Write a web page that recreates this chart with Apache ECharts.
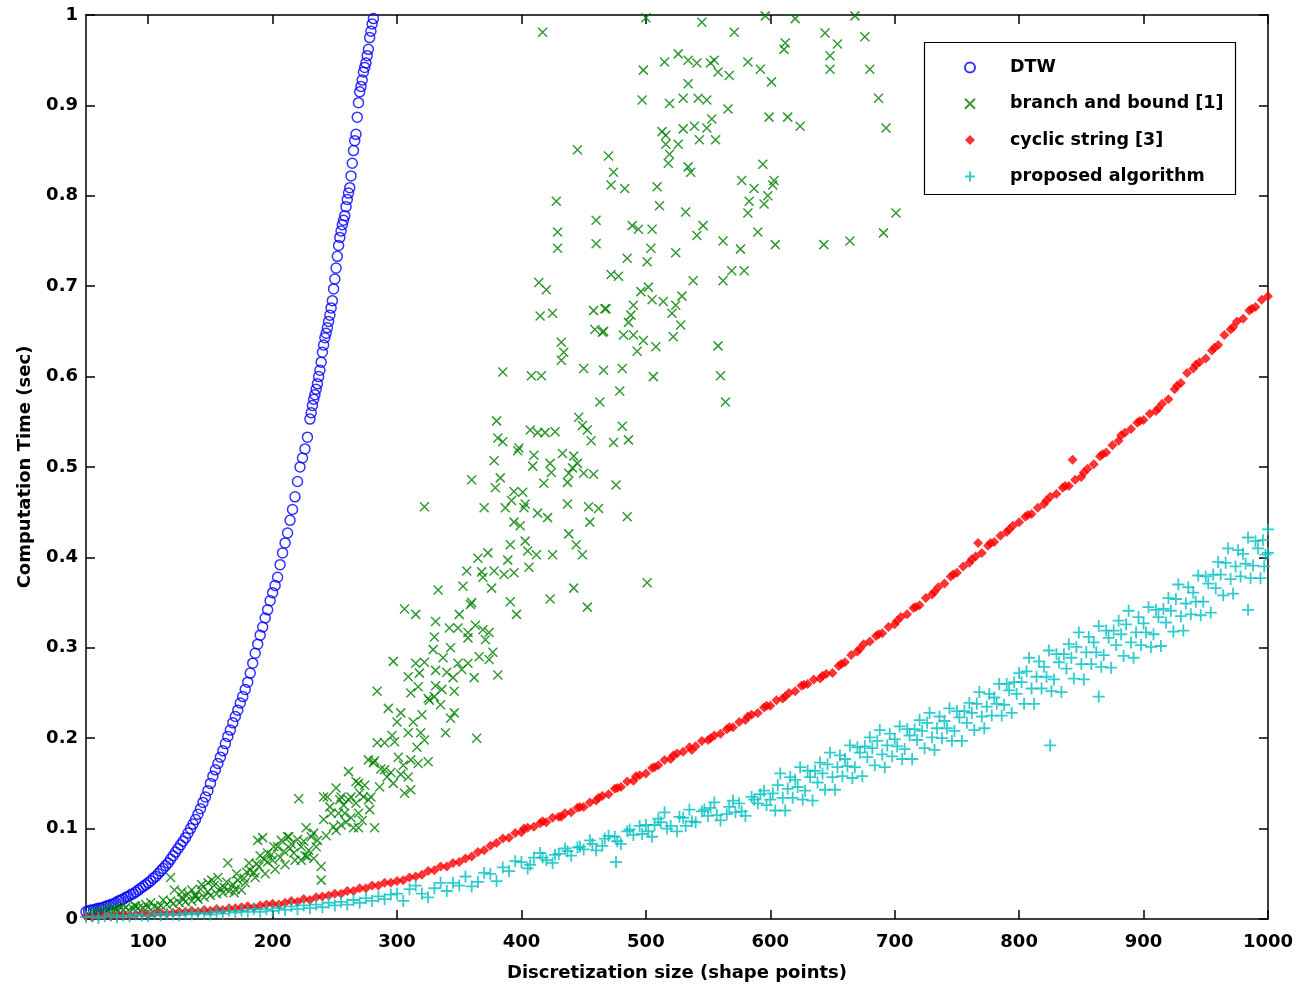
<!DOCTYPE html>
<html>
<head>
<meta charset="utf-8">
<script src="https://cdn.jsdelivr.net/npm/echarts@6/dist/echarts.min.js"></script>
<style>
html,body{margin:0;padding:0;background:#fff;}
#chart{width:1296px;height:991px;}
</style>
</head>
<body>
<div id="chart"></div>
<script>
const seriesNames = ['DTW', 'branch and bound [1]', 'cyclic string [3]', 'proposed algorithm'];
const xTicks = [100, 200, 300, 400, 500, 600, 700, 800, 900, 1000];
const yTicks = [0, 0.1, 0.2, 0.3, 0.4, 0.5, 0.6, 0.7, 0.8, 0.9, 1];

const dtw = [
[50,.008],[52,.009],[54,.010],[56,.010],[58,.011],[60,.012],[62,.012],[64,.013],[66,.014],[68,.015],
[70,.016],[72,.017],[74,.018],[76,.020],[78,.021],[80,.022],[82,.024],[84,.025],[86,.027],[88,.028],
[90,.030],[92,.032],[94,.034],[96,.036],[98,.038],[100,.040],[102,.042],[104,.045],[106,.047],[108,.050],
[110,.053],[112,.056],[114,.059],[116,.062],[118,.066],[120,.070],[122,.074],[124,.078],[126,.082],[128,.086],
[130,.090],[132,.095],[134,.100],[136,.105],[138,.110],[140,.116],[142,.122],[144,.129],[146,.135],[148,.142],
[150,.150],[152,.158],[154,.165],[156,.172],[158,.179],[160,.186],[162,.194],[164,.202],[166,.209],[168,.217],
[170,.224],[172,.231],[174,.239],[176,.246],[178,.254],[180,.262],[182,.272],[184,.283],[186,.294],[188,.304],
[190,.314],[192,.323],[194,.333],[196,.342],[198,.352],[200,.361],[202,.369],[204,.378],[206,.392],[208,.405],
[210,.416],[212,.427],[214,.441],[216,.453],[218,.467],[220,.484],[222,.500],[224,.510],[226,.520],[228,.533],
[230,.553],[232,.568],[234,.580],[236,.592],[238,.607],[240,.627],[242,.643],[244,.654],[246,.668],[248,.684],
[250,.708],[252,.733],[254,.754],[256,.768],[258,.778],[260,.796],[261,.803],[262,.809],[263,.822],[264,.836],
[265,.850],[266,.861],[267,.868],[268,.887],[269,.903],[270,.915],[272,.928],[274,.942],[276,.955],[278,.975],[280,.990],[281,.996],
[241,.635],[243,.648],[245,.661],[247,.676],[249,.697],[251,.720],[253,.745],[255,.761],[257,.773],[259,.788],
[271,.921],[273,.937],[275,.947],[277,.962],[279,.982],[231,.560],[233,.575],[235,.586],[237,.600],[239,.616]
];

const branchBound = [
[500,.997],[545,.992],[571,.981],[596,.999],[620,.996],[668,.999],[644,.980],[676,.976],[612,.969],[611,.962],
[654,.968],[648,.955],[648,.940],[680,.940],[498,.939],[515,.948],[526,.957],[534,.950],[541,.947],[552,.947],
[555,.950],[558,.937],[567,.933],[582,.948],[592,.940],[601,.926],[534,.924],[497,.906],[519,.902],[530,.908],
[542,.908],[549,.906],[566,.896],[687,.908],[599,.887],[614,.887],[624,.877],[693,.875],[513,.871],[516,.867],
[530,.874],[539,.877],[549,.875],[553,.885],[516,.857],[526,.857],[543,.862],[556,.862],[519,.846],[518,.836],
[534,.832],[536,.826],[594,.835],[470,.844],[474,.826],[472,.812],[483,.808],[509,.810],[577,.817],[587,.808],
[603,.817],[602,.812],[598,.800],[595,.791],[583,.794],[582,.781],[511,.789],[532,.782],[701,.781],[489,.767],
[494,.763],[505,.763],[546,.767],[541,.756],[590,.760],[562,.750],[576,.741],[604,.746],[643,.746],[664,.750],
[691,.759],[504,.742],[524,.737],[485,.731],[501,.727],[472,.713],[478,.711],[569,.717],[579,.717],[538,.706],
[562,.706],[496,.694],[502,.699],[505,.685],[514,.683],[529,.689],[524,.679],[521,.670],[490,.679],[488,.668],
[486,.660],[468,.675],[528,.657],[466,.650],[482,.646],[490,.646],[498,.640],[493,.628],[508,.633],[522,.644],
[558,.634],[560,.601],[564,.572],[506,.600],[481,.609],[466,.607],[479,.584],
[417,.981],[445,.851],[428,.794],[429,.760],[429,.742],[460,.773],[460,.747],[414,.704],[420,.696],[415,.667],
[425,.670],[458,.673],[467,.675],[459,.652],[465,.649],[432,.638],[434,.627],[432,.618],[385,.605],[408,.601],
[416,.601],[450,.609],[463,.572],[380,.551],[381,.532],[385,.528],[407,.541],[413,.538],[419,.538],[427,.539],
[446,.555],[449,.546],[453,.541],[456,.529],[474,.527],[481,.545],[486,.530],[398,.521],
[397,.518],[410,.513],[409,.501],[423,.504],[424,.494],[433,.515],[442,.512],[445,.504],[441,.499],[438,.493],
[437,.483],[450,.493],[458,.492],[378,.507],[360,.486],[383,.488],[379,.477],[418,.482],[476,.480],[322,.456],
[370,.455],[387,.455],[394,.473],[401,.472],[392,.463],[403,.459],[402,.455],[413,.449],[421,.444],[437,.459],
[454,.456],[462,.454],[455,.439],[485,.445],[394,.439],[399,.435],[391,.414],[403,.418],[405,.407],[412,.403],
[425,.403],[438,.426],[444,.414],[449,.403],[365,.399],[373,.405],[389,.397],[356,.385],[368,.384],[369,.378],
[378,.385],[386,.381],[394,.383],[406,.389],[353,.368],[333,.364],[376,.366],[442,.366],[501,.372],[360,.350],
[391,.351],[396,.337],[423,.354],[453,.345],[306,.343],[315,.337],[350,.337],[359,.348],[331,.329],[330,.312],
[329,.298],[342,.322],[349,.322],[357,.317],[363,.325],[369,.320],[374,.317],[357,.311],[371,.309],[377,.295],
[374,.287],[343,.300],[337,.289],[349,.283],[357,.283],[297,.285],[315,.283],[322,.284],[309,.268],[318,.272],
[331,.275],[340,.273],[317,.257],[331,.258],[345,.267],[346,.252],[362,.267],[381,.270],[284,.252],[325,.244],
[293,.233],[303,.228],[300,.218],[309,.206],[313,.218],[319,.206],[326,.242],[330,.246],[335,.237],[346,.228],
[343,.222],[339,.206],[364,.200],[284,.195],[290,.195],[298,.196],[277,.176],[281,.173],[290,.165],[295,.162],
[301,.179],[305,.170],[311,.176],[325,.174],[306,.139],[311,.143],[261,.163],[267,.152],[274,.148],[270,.139],
[263,.135],[277,.132],[278,.121],[269,.117],[251,.145],[244,.135],[254,.132],[221,.133],[241,.110],[249,.102],
[255,.104],[247,.117],[269,.101],[282,.101],[227,.101],[231,.091],[236,.087],[213,.091],[207,.087],[201,.080],
[192,.090],[223,.080],[229,.076],[233,.067],[239,.043],[223,.065],[217,.073],[181,.062],[189,.058],[196,.063],
[185,.051],[177,.045],[175,.032],[169,.029],[161,.035],[151,.043],[143,.038],[135,.032],[127,.030],[121,.032],
[118,.046],[112,.021],[102,.018],[89,.015],[78,.013],[73,.012],
[127,.024],[138,.027],[148,.040],[156,.046],[164,.062],[172,.043],[188,.087],[196,.073],[204,.080],[212,.091],
[233,.095],[239,.058],[228,.069],[253,.117],[258,.117],[263,.112],[265,.101],[272,.109],[241,.135],[255,.135],
[261,.132],[269,.150],[273,.135],[279,.135],[287,.166],[292,.157],[309,.157],[317,.172],[282,.175],
[52,.005],[56,.006],[60,.006],[64,.007],[68,.008],[72,.008],[76,.009],[80,.010],[84,.010],[88,.011],
[92,.012],[96,.012],[100,.013],[105,.014],[110,.015],[115,.016],[120,.017],[125,.018],[130,.019],[135,.020],
[140,.022],[145,.024],[150,.026],[155,.028],[160,.029],[165,.031],[170,.033],[58,.009],[66,.011],[74,.010],
[82,.013],[90,.014],[98,.016],[108,.012],[118,.020],[128,.022],[138,.025],[148,.030],[158,.034],[168,.038],
[178,.040],[186,.046],[194,.050],[202,.055],[210,.060],[218,.065],[226,.070],[206,.068],[214,.078],[220,.088],
[200,.065],[190,.070],[182,.054],
[132,.028],[142,.033],[153,.037],[163,.041],[171,.050],[179,.052],[187,.061],[193,.066],[199,.071],[209,.075],
[215,.083],[225,.086],[235,.080],[243,.092],[251,.098],[259,.107],[246,.124],[257,.126],[267,.128],[286,.146],
[297,.150],[303,.160],[316,.190],[322,.198],[296,.203],[320,.226],[336,.254],[352,.276],[366,.290],[311,.250]
];

const cyclicString = [
[50,.003],[55,.002],[60,.003],[65,.004],[70,.003],[75,.004],[80,.005],[85,.004],[90,.005],[95,.006],
[100,.005],[105,.006],[110,.007],[115,.006],[120,.007],[125,.008],[130,.008],[135,.009],[140,.008],[145,.010],
[150,.009],[155,.011],[160,.010],[165,.012],[170,.012],[175,.013],[180,.014],[185,.013],[190,.015],[195,.016],
[200,.017],[205,.016],[210,.018],[215,.020],[220,.019],[225,.022],[230,.021],[235,.024],[240,.025],[245,.026],
[250,.028],[255,.028],[260,.031],[265,.031],[270,.034],[275,.034],[280,.037],[285,.037],[290,.040],[295,.040],
[300,.042],[305,.043],[310,.046],[315,.047],[320,.049],[325,.053],[330,.054],[335,.058],[340,.058],[345,.062],
[350,.063],[355,.067],[360,.069],[365,.074],[370,.076],[375,.081],[380,.084],[385,.089],[390,.090],[395,.095],
[400,.096],[405,.101],[410,.102],[415,.106],[420,.107],[425,.112],[430,.113],[435,.117],[440,.118],[445,.123],
[450,.124],[455,.129],[460,.131],[465,.136],[470,.138],[475,.144],[480,.146],[485,.152],[490,.153],[495,.159],
[500,.161],[505,.167],[510,.170],[515,.176],[520,.177],[525,.183],[530,.185],[535,.190],[540,.191],[545,.197],
[550,.198],[555,.203],[560,.205],[565,.210],[570,.212],[575,.218],[580,.220],[585,.226],[590,.228],[595,.234],
[600,.236],[605,.242],[610,.244],[615,.250],[620,.252],[625,.258],[630,.260],[635,.265],[640,.266],[645,.271],
[650,.272],[655,.280],[660,.284],[665,.292],[670,.296],[675,.304],[680,.307],[685,.313],[690,.316],[695,.323],
[700,.326],[705,.334],[710,.337],[715,.344],[720,.347],[725,.355],[730,.359],[735,.367],[740,.371],[745,.379],
[750,.383],[755,.390],[760,.394],[765,.401],[770,.405],[775,.413],[780,.417],[785,.424],[790,.428],[795,.435],
[800,.439],[805,.445],[810,.448],[815,.455],[820,.459],[825,.467],[830,.470],[835,.477],[840,.479],[845,.486],
[850,.489],[855,.498],[860,.503],[865,.512],[870,.516],[875,.524],[880,.529],[885,.538],[890,.542],[895,.549],
[900,.552],[905,.559],[910,.562],[915,.570],[920,.575],[925,.586],[930,.593],[935,.604],[940,.609],[945,.616],
[950,.620],[955,.629],[960,.635],[965,.646],[970,.652],[975,.661],[980,.664],[985,.673],[990,.677],[995,.685],
[1000,.689],[843,.508],[767,.416],
[402,.100],[432,.113],[462,.134],[492,.158],[522,.181],[552,.200],[582,.224],[612,.246],[642,.269],[672,.299],
[702,.330],[732,.362],[762,.398],[792,.431],[822,.463],[852,.494],[882,.535],[912,.565],[942,.613],[972,.655],
[417,.108],[447,.124],[477,.145],[507,.168],[537,.187],[567,.212],[597,.236],[627,.259],[657,.282],[687,.315],
[717,.345],[747,.381],[777,.416],[807,.447],[837,.479],[867,.514],[897,.551],[927,.590],[957,.632],[987,.675]
];

const proposed = [
[50,.002],[55,.003],[60,.001],[65,.003],[70,.004],[75,.002],[80,.004],[85,.003],[90,.005],[95,.004],
[100,.003],[105,.006],[110,.004],[115,.006],[120,.005],[125,.004],[130,.007],[135,.005],[140,.007],[145,.006],
[150,.005],[155,.008],[160,.006],[165,.009],[170,.007],[175,.009],[180,.008],[185,.011],[190,.008],[195,.011],
[200,.009],[205,.012],[210,.010],[215,.014],[220,.011],[225,.015],[230,.012],[235,.016],[240,.013],[245,.018],
[250,.015],[255,.019],[260,.016],[265,.021],[270,.018],[275,.023],[280,.020],[285,.025],[290,.022],[295,.027],
[300,.028],[305,.020],[310,.033],[315,.037],[320,.028],[325,.024],[330,.034],[335,.040],[340,.031],[345,.040],
[350,.037],[355,.047],[360,.036],[365,.041],[370,.051],[375,.050],[380,.042],[385,.057],[390,.053],[395,.064],
[400,.063],[405,.056],[410,.068],[415,.073],[420,.065],[425,.062],[430,.072],[435,.078],[440,.070],[445,.079],
[450,.077],[455,.087],[460,.076],[465,.081],[470,.092],[475,.091],[480,.083],[485,.097],[490,.093],[495,.103],
[500,.104],[505,.091],[510,.111],[515,.118],[520,.103],[525,.097],[530,.112],[535,.121],[540,.107],[545,.119],
[550,.114],[555,.129],[560,.109],[565,.116],[570,.131],[575,.128],[580,.114],[585,.135],[590,.128],[595,.142],
[600,.132],[407,.060],[417,.068],[427,.071],[437,.075],[447,.080],[457,.083],[467,.089],[477,.086],[487,.099],
[497,.094],[507,.104],[517,.100],[527,.113],[537,.108],[547,.121],[557,.115],[567,.124],[577,.119],[587,.132],
[597,.126],[502,.097],[512,.107],[532,.103],[552,.123],[572,.118],[592,.138],[476,.063],
[602,.139],[604,.120],[606,.148],[608,.161],[610,.134],[612,.120],[614,.144],[616,.157],[618,.134],[620,.154],
[622,.146],[624,.168],[626,.132],[628,.142],[630,.164],[632,.157],[634,.131],[636,.164],[638,.151],[640,.173],
[642,.161],[644,.143],[646,.171],[648,.184],[650,.157],[652,.143],[654,.168],[656,.181],[658,.158],[660,.177],
[662,.169],[664,.192],[666,.156],[668,.168],[670,.190],[672,.184],[674,.158],[676,.191],[678,.179],[680,.201],
[682,.189],[684,.170],[686,.197],[688,.209],[690,.182],[692,.168],[694,.192],[696,.205],[698,.180],[700,.199],
[702,.191],[704,.213],[706,.177],[708,.188],[710,.210],[712,.203],[714,.177],[716,.210],[718,.198],[720,.220],
[722,.208],[724,.189],[726,.217],[728,.228],[730,.201],[732,.187],[734,.211],[736,.224],[738,.200],[740,.219],
[742,.211],[744,.233],[746,.197],[748,.208],[750,.230],[752,.223],[754,.197],[756,.230],[758,.217],[760,.239],
[762,.228],[764,.209],[766,.238],[768,.251],[770,.224],[772,.211],[774,.235],[776,.249],[778,.225],[780,.245],
[782,.238],[784,.260],[786,.225],[788,.237],[790,.260],[792,.253],[794,.228],[796,.262],[798,.249],[800,.272],
[802,.262],[804,.238],[806,.274],[808,.289],[810,.255],[812,.238],[814,.268],[816,.285],[818,.255],[820,.279],
[822,.268],[824,.297],[826,.252],[828,.265],[830,.293],[832,.284],[834,.251],[836,.293],[838,.277],[840,.304],
[842,.289],[844,.266],[846,.301],[848,.317],[850,.282],[852,.265],[854,.295],[856,.312],[858,.282],[860,.306],
[862,.295],[864,.324],[866,.279],[868,.292],[870,.319],[872,.311],[874,.278],[876,.319],[878,.303],[880,.330],
[882,.315],[884,.291],[886,.326],[888,.341],[890,.306],[892,.289],[894,.317],[896,.334],[898,.303],[900,.327],
[902,.317],[904,.345],[906,.301],[908,.315],[910,.342],[912,.334],[914,.302],[916,.343],[918,.328],[920,.355],
[922,.341],[924,.318],[926,.354],[928,.370],[930,.335],[932,.319],[934,.349],[936,.367],[938,.337],[940,.361],
[942,.351],[944,.380],[946,.336],[948,.351],[950,.379],[952,.371],[954,.339],[956,.381],[958,.366],[960,.395],
[962,.381],[964,.358],[966,.394],[968,.410],[970,.376],[972,.360],[974,.390],[976,.408],[978,.379],[980,.404],
[982,.393],[984,.422],[986,.377],[988,.391],[990,.418],[992,.410],[994,.377],[996,.419],[998,.403],[1000,.431],
[984,.342],[825,.192],[864,.246],[1000,.405],[997,.390]
];

const FONT = 'DejaVu Sans';
const chart = echarts.init(document.getElementById('chart'), null, {renderer: 'canvas'});

const xAxisCommon = {
  type: 'value', min: 50, max: 1000,
  splitLine: {show: false},
  axisLine: {onZero: false, lineStyle: {color: '#000', width: 1.5}},
  axisTick: {inside: true, length: 9, customValues: xTicks, lineStyle: {color: '#000', width: 1.5}}
};
const yAxisCommon = {
  type: 'value', min: 0, max: 1, interval: 0.1,
  splitLine: {show: false},
  axisLine: {onZero: false, lineStyle: {color: '#000', width: 1.5}},
  axisTick: {inside: true, length: 9, lineStyle: {color: '#000', width: 1.5}}
};

const option = {
  animation: false,
  backgroundColor: '#fff',
  grid: {left: 86, right: 28, top: 15, bottom: 72, containLabel: false},
  xAxis: [
    Object.assign({}, xAxisCommon, {
      position: 'bottom',
      name: 'Discretization size (shape points)',
      nameLocation: 'middle', nameGap: 45,
      nameTextStyle: {fontFamily: FONT, fontWeight: 'bold', fontSize: 18, color: '#000'},
      axisLabel: {customValues: xTicks, margin: 14, fontFamily: FONT, fontWeight: 'bold', fontSize: 18, color: '#000',
        formatter: function (v) { return String(v); }}
    }),
    Object.assign({}, xAxisCommon, {position: 'top', axisLabel: {show: false}})
  ],
  yAxis: [
    Object.assign({}, yAxisCommon, {
      position: 'left',
      name: 'Computation Time (sec)',
      nameLocation: 'middle', nameGap: 52,
      nameTextStyle: {fontFamily: FONT, fontWeight: 'bold', fontSize: 18, color: '#000'},
      axisLabel: {margin: 8, fontFamily: FONT, fontWeight: 'bold', fontSize: 18, color: '#000',
        formatter: function (v) { return String(Math.round(v * 10) / 10); }}
    }),
    Object.assign({}, yAxisCommon, {position: 'right', axisLabel: {show: false}})
  ],
  legend: {
    data: seriesNames,
    orient: 'vertical',
    left: 964, top: 58.5,
    padding: 0,
    itemWidth: 10, itemHeight: 10, itemGap: 18.3,
    z: 10,
    textStyle: {fontFamily: FONT, fontWeight: 'bold', fontSize: 17.5, color: '#000', lineHeight: 18, padding: [0, 0, 0, 30]}
  },
  graphic: [{
    type: 'rect', z: 9, silent: true,
    shape: {x: 924.5, y: 42.5, width: 311, height: 152},
    style: {fill: '#fff', stroke: '#000', lineWidth: 1.2}
  }],
  series: [
    {
      name: seriesNames[0], type: 'scatter', data: dtw,
      symbol: 'circle', symbolSize: 10,
      itemStyle: {color: 'rgba(0,0,0,0)', borderColor: '#0000ff', borderWidth: 1.5},
      emphasis: {disabled: true}
    },
    {
      name: seriesNames[1], type: 'scatter', data: branchBound,
      symbol: 'path://M0,0L10,10M0,10L10,0', symbolSize: 9, symbolKeepAspect: true,
      itemStyle: {color: 'rgba(0,0,0,0)', borderColor: '#008000', borderWidth: 1.5},
      emphasis: {disabled: true}
    },
    {
      name: seriesNames[2], type: 'scatter', data: cyclicString,
      symbol: 'diamond', symbolSize: 10,
      itemStyle: {color: '#ff0000'},
      emphasis: {disabled: true}
    },
    {
      name: seriesNames[3], type: 'scatter', data: proposed,
      symbol: 'path://M5,0L5,10M0,5L10,5', symbolSize: 12, symbolKeepAspect: true,
      itemStyle: {color: 'rgba(0,0,0,0)', borderColor: '#00bfbf', borderWidth: 1.8},
      emphasis: {disabled: true}
    }
  ]
};
chart.setOption(option);
</script>
</body>
</html>
